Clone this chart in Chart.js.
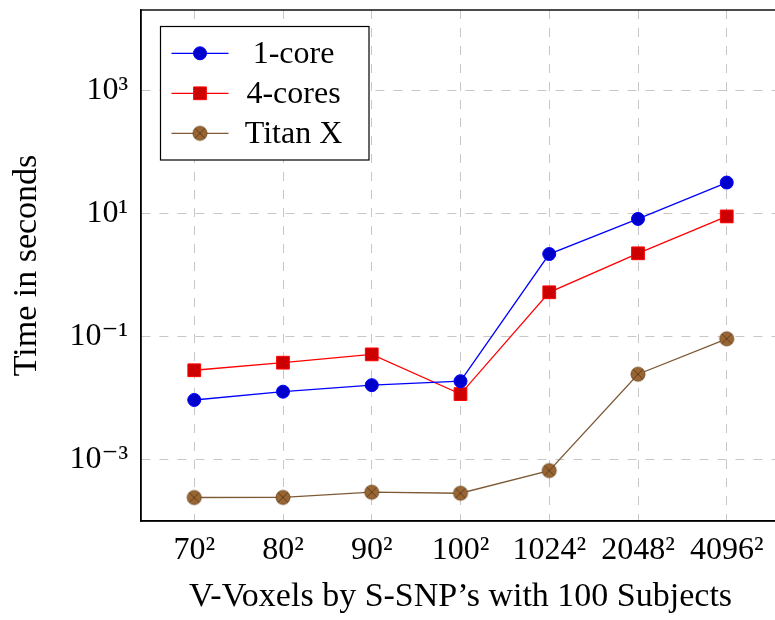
<!DOCTYPE html>
<html>
<head>
<meta charset="utf-8">
<script src="https://cdn.jsdelivr.net/npm/chart.js@4.4.1/dist/chart.umd.min.js"></script>
<style>
  html, body { margin: 0; padding: 0; background: #ffffff; overflow: hidden; }
  #wrap { width: 790px; height: 620px; }
</style>
</head>
<body>
<div id="wrap"><canvas id="c" width="790" height="620"></canvas></div>
<script>
// ---- data ----
const categories = ['70²', '80²', '90²', '100²', '1024²', '2048²', '4096²'];
const oneCore   = [0.0093, 0.0127, 0.0162, 0.0188, 2.2, 8.2, 32];
const fourCores = [0.0283, 0.0376, 0.0513, 0.0116, 0.525, 2.26, 9.0];
const titanX    = [2.41e-4, 2.42e-4, 2.94e-4, 2.83e-4, 6.6e-4, 0.0244, 0.092];
const seriesNames = ['1-core', '4-cores', 'Titan X'];
const yTickValues = [1e-3, 1e-1, 1e1, 1e3];
const yTickLabels = ['10⁻³', '10⁻¹', '10¹', '10³'];
const xTitle = 'V-Voxels by S-SNP’s with 100 Subjects';
const yTitle = 'Time in seconds';

const FONT = "'Liberation Serif', 'DejaVu Serif', serif";

function otimesMarker(r, fill, stroke) {
  const c = document.createElement('canvas');
  const s = Math.ceil(2 * r + 4);
  c.width = s; c.height = s;
  const g = c.getContext('2d');
  const m = s / 2;
  g.beginPath(); g.arc(m, m, r, 0, Math.PI * 2);
  g.fillStyle = fill; g.fill();
  g.lineWidth = 1; g.strokeStyle = stroke; g.stroke();
  const d = r * 0.68;
  g.beginPath();
  g.moveTo(m - d, m - d); g.lineTo(m + d, m + d);
  g.moveTo(m + d, m - d); g.lineTo(m - d, m + d);
  g.strokeStyle = 'rgba(70,40,15,0.75)'; g.lineWidth = 0.9; g.stroke();
  return c;
}
const brownMark = otimesMarker(7, '#996633', '#734d26');

const toPts = arr => arr.map((v, i) => ({ x: i, y: v }));

const datasets = [
  { label: seriesNames[0], data: toPts(oneCore), borderColor: '#0000ff', borderWidth: 1.3,
    pointStyle: 'circle', pointRadius: 6.5, pointHoverRadius: 6.5,
    pointBackgroundColor: '#0000cc', pointBorderColor: '#0000ff', pointBorderWidth: 1, tension: 0 },
  { label: seriesNames[1], data: toPts(fourCores), borderColor: '#ff0000', borderWidth: 1.3,
    pointStyle: 'rect', pointRadius: 9, pointHoverRadius: 9,
    pointBackgroundColor: '#cc0000', pointBorderColor: '#ff0000', pointBorderWidth: 1, tension: 0 },
  { label: seriesNames[2], data: toPts(titanX), borderColor: '#7d5a36', borderWidth: 1.3,
    pointStyle: brownMark, pointRadius: 7, pointHoverRadius: 7,
    pointBackgroundColor: '#996633', pointBorderColor: '#734d26', pointBorderWidth: 1, tension: 0 }
];

const framePlugin = {
  id: 'frame',
  afterDatasetsDraw(chart) {
    const { ctx, chartArea: a } = chart;
    ctx.save();
    ctx.strokeStyle = '#000'; ctx.lineWidth = 1.4;
    ctx.strokeRect(a.left, a.top, a.right - a.left, a.bottom - a.top);
    ctx.restore();
  }
};

const legendPlugin = {
  id: 'boxLegend',
  afterDraw(chart) {
    const { ctx, chartArea: a } = chart;
    const bx = a.left + 19.5, by = a.top + 16.5, bw = 208.5, bh = 133.5;
    ctx.save();
    ctx.fillStyle = '#fff';
    ctx.fillRect(bx, by, bw, bh);
    ctx.strokeStyle = '#000'; ctx.lineWidth = 1.2;
    ctx.strokeRect(bx, by, bw, bh);
    chart.data.datasets.forEach((ds, i) => {
      const y = by + 26.8 + i * 40;
      ctx.beginPath();
      ctx.moveTo(bx + 11, y); ctx.lineTo(bx + 68, y);
      ctx.strokeStyle = ds.borderColor; ctx.lineWidth = ds.borderWidth;
      ctx.stroke();
      ctx.fillStyle = ds.pointBackgroundColor;
      ctx.strokeStyle = ds.pointBorderColor;
      ctx.lineWidth = ds.pointBorderWidth;
      Chart.helpers.drawPoint(ctx, { pointStyle: ds.pointStyle, radius: ds.pointRadius,
        borderWidth: ds.pointBorderWidth, rotation: 0 }, bx + 39.5, y);
      ctx.fillStyle = '#000';
      ctx.font = '32px ' + FONT;
      ctx.textAlign = 'center'; ctx.textBaseline = 'middle';
      ctx.fillText(ds.label, bx + 133, y + 1);
    });
    ctx.restore();
  }
};

new Chart(document.getElementById('c'), {
  type: 'line',
  data: { datasets },
  options: {
    responsive: false,
    animation: false,
    devicePixelRatio: 1,
    layout: { padding: { left: 0, right: 9, top: 3, bottom: 0 } },
    plugins: { legend: { display: false }, tooltip: { enabled: false } },
    scales: {
      x: {
        type: 'linear', min: -0.6, max: 6.6,
        afterBuildTicks: s => { s.ticks = categories.map((_, i) => ({ value: i })); },
        afterFit: s => { s.height = 99; s.paddingLeft = 0; s.paddingRight = 0; },
        ticks: { callback: v => categories[v], color: '#000', padding: 10,
                 font: { family: FONT, size: 32 }, maxRotation: 0, autoSkip: false },
        grid: { color: 'rgba(0,0,0,0.22)', lineWidth: 1, drawTicks: false, tickLength: 0 },
        border: { display: true, color: '#000', width: 1.4, dash: [9, 9] },
        title: { display: true, text: xTitle, color: '#000',
                 font: { family: FONT, size: 34 }, padding: { top: 4, bottom: 3 } }
      },
      y: {
        type: 'logarithmic', min: 1e-4, max: 2.05e4,
        afterBuildTicks: s => { s.ticks = yTickValues.map(v => ({ value: v })); },
        afterFit: s => { s.width = 141; s.paddingTop = 0; s.paddingBottom = 0; },
        ticks: { callback: v => { const k = yTickValues.indexOf(v); return k >= 0 ? yTickLabels[k] : ''; },
                 color: '#000', padding: 13, font: { family: FONT, size: 32 } },
        grid: { color: 'rgba(0,0,0,0.22)', lineWidth: 1, drawTicks: false, tickLength: 0 },
        border: { display: true, color: '#000', width: 1.4, dash: [9, 9] },
        title: { display: true, text: yTitle, color: '#000',
                 font: { family: FONT, size: 34 }, padding: { top: 7, bottom: 0 } }
      }
    }
  },
  plugins: [framePlugin, legendPlugin]
});
</script>
</body>
</html>
